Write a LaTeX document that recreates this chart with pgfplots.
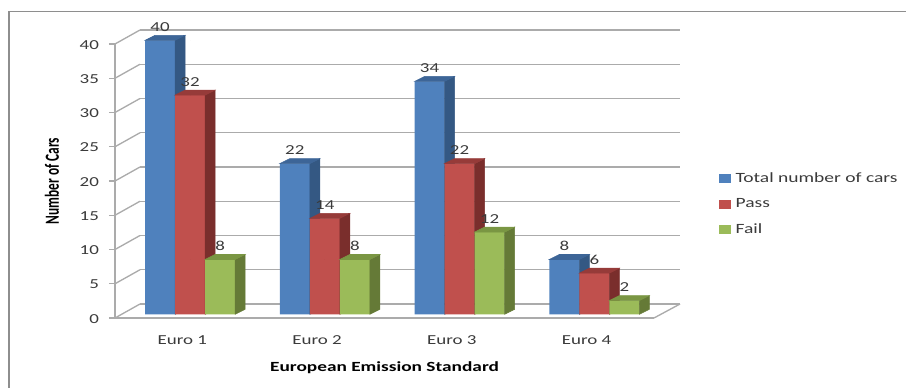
\documentclass[border=0pt]{standalone}
\usepackage{pgfplots}
\usepackage{pgfplotstable}
\usepackage{fontspec}
\pgfplotsset{compat=1.18}
\setmainfont[FakeStretch=1.38]{Carlito}
\newfontfamily\narrowbold[Ligatures=TeX]{Carlito}

\definecolor{gridgrey}{HTML}{ABABAB}
\definecolor{axisgrey}{HTML}{8E8E8E}
\definecolor{inktext}{HTML}{3A3A3A}
\definecolor{blueF}{HTML}{4F81BD}\definecolor{blueS}{HTML}{345883}\definecolor{blueT}{HTML}{3D6597}
\definecolor{redF}{HTML}{C0504D}\definecolor{redS}{HTML}{7A2E2C}\definecolor{redT}{HTML}{963B39}
\definecolor{greenF}{HTML}{9BBB59}\definecolor{greenS}{HTML}{657A37}\definecolor{greenT}{HTML}{7A9643}

\pgfplotstableread{
pos  total pass fail
0.5  40    32   8
1.5  22    14   8
2.5  34    22   12
3.5  8     6    2
}\emissions

% Side and top faces of a cuboid bar, hung from each data point.
% #1 horizontal offset, #2 side colour, #3 top colour (1 unit = 1 image pixel).
\pgfplotsset{
  barfaces/.style n args={3}{
    only marks, scatter, forget plot, mark=*, mark size=0pt,
    mark options={draw=none,fill=none},
    point meta=y,
    visualization depends on={rawy \as \barval},
    scatter/@pre marker code/.code={%
      \pgfscope
      \begin{scope}[x=0.75pt,y=0.75pt]
        \fill[#2] ({#1+15},0) -- ({#1+25},5) -- ({#1+25},{5-\barval*6.85}) -- ({#1+15},{-\barval*6.85}) -- cycle;
        \fill[#3] ({#1-15},0) -- ({#1+15},0) -- ({#1+25},5) -- ({#1-5},5) -- cycle;
      \end{scope}
    },
    scatter/@post marker code/.code={\endpgfscope},
  },
  frontbar/.style n args={2}{
    ybar, bar width=22.5pt, bar shift=#1pt, fill=#2, draw=none,
    nodes near coords,
    point meta=y,
    every node near coord/.append style={xshift=#1pt},
  },
  sharedframe/.style={
    scale only axis, clip=false,
    xmin=0, xmax=4, ymin=0, ymax=40,
    /pgf/number format/assume math mode=true,
  },
  % One layer of bars; each series has its own so that later series cover earlier faces.
  barlayer/.style={
    sharedframe, at={(92.03pt,55.28pt)}, anchor=south west,
    width=404.25pt, height=205.5pt, hide axis,
    every node near coord/.append style={anchor=center,yshift=10pt,
      font=\fontsize{10.3pt}{12pt}\selectfont,text=inktext,inner sep=0pt},
  },
  swatch/.style={
    legend image code/.code={\fill[#1] (0pt,-3pt) rectangle (8.25pt,3pt);},
  },
}

\begin{document}
\begin{tikzpicture}[x=1pt,y=1pt]
\useasboundingbox (0,0) rectangle (679.5,291);

% Outer chart frame, open towards the right and the bottom
\draw[axisgrey,line width=1.1pt] (6.75,-2) -- (6.75,282.4) -- (682,282.4);

% Back wall with its horizontal grid lines
\begin{axis}[sharedframe, at={(105pt,63pt)}, anchor=south west,
  width=405pt, height=205.5pt,
  axis line style={draw=none}, xtick=\empty,
  ytick={0,5,...,40}, yticklabels={}, major tick length=0pt,
  ymajorgrids, grid style={gridgrey,line width=1pt}]
\end{axis}

% Front axes: ticks, labels, and the receding lines towards the wall
\begin{axis}[sharedframe, at={(86.25pt,52.5pt)}, anchor=south west,
  width=404.25pt, height=205.5pt,
  axis x line*=bottom, axis y line*=left,
  axis line style={gridgrey,line width=1pt,-},
  tick align=outside, tick style={gridgrey,line width=1pt},
  ytick={0,5,...,40},
  xtick={0.5,1.5,2.5,3.5},
  xticklabels={Euro 1,Euro 2,Euro 3,Euro 4},
  minor xtick={0,1,2,3,4},
  major tick length=4.5pt,
  x tick style={draw=none},
  minor x tick style={gridgrey,line width=1pt},
  minor tick length=3pt,
  ticklabel style={font=\fontsize{10.3pt}{12pt}\selectfont,text=inktext},
  yticklabel style={xshift=-4pt,yshift=-0.6pt},
  xticklabel style={yshift=-5.5pt},
  xlabel={\bfseries European Emission Standard},
  xlabel style={at={(axis description cs:0.5,-0.1825)},anchor=center,
    font=\fontsize{10.5pt}{12pt}\selectfont,text=black},
  ylabel={\scalebox{1}[1.5]{\narrowbold\bfseries Number of Cars}},
  ylabel style={at={(axis description cs:-0.1169,0.5)},anchor=center,rotate=0,
    font=\fontsize{10pt}{12pt}\selectfont,text=black},
]
\pgfplotsinvokeforeach{0,5,...,40}{
  \draw[gridgrey,line width=1pt] (axis cs:0,#1) -- ++(18.75pt,10.5pt);
}
\draw[gridgrey,line width=1pt] (axis cs:4,0) -- ++(19.5pt,10.5pt);
\end{axis}

% Total number of cars
\begin{axis}[barlayer]
\addplot[frontbar={-22.5}{blueF}] table[x=pos,y=total] {\emissions};
\addplot[barfaces={-30}{blueS}{blueT}] table[x=pos,y=total] {\emissions};
\end{axis}

% Pass
\begin{axis}[barlayer]
\addplot[frontbar={0}{redF}] table[x=pos,y=pass] {\emissions};
\addplot[barfaces={0}{redS}{redT}] table[x=pos,y=pass] {\emissions};
\end{axis}

% Fail
\begin{axis}[barlayer]
\addplot[frontbar={22.5}{greenF}] table[x=pos,y=fail] {\emissions};
\addplot[barfaces={30}{greenS}{greenT}] table[x=pos,y=fail] {\emissions};
\end{axis}

% Legend of the three series
\begin{axis}[barlayer,
  legend style={at={(1.1063,0.527)},anchor=north west,draw=none,fill=none,
    inner sep=0pt,outer sep=0pt,
    font=\fontsize{10.6pt}{12pt}\selectfont,text=inktext,
    row sep=6.5pt,
    nodes={inner xsep=3.8pt}},
  legend cell align=left,
]
\addlegendimage{swatch=blueF}\addlegendentry{Total number of cars}
\addlegendimage{swatch=redF}\addlegendentry{Pass}
\addlegendimage{swatch=greenF}\addlegendentry{Fail}
\end{axis}
\end{tikzpicture}
\end{document}
